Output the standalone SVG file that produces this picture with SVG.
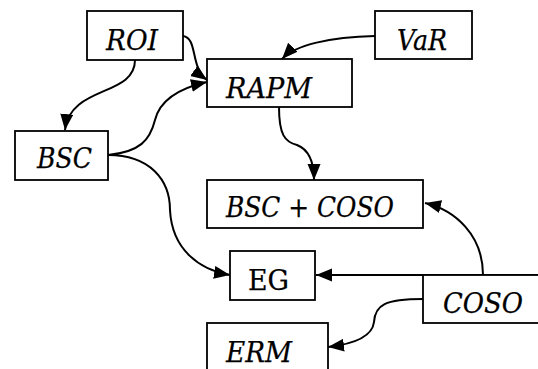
<svg xmlns="http://www.w3.org/2000/svg" width="538" height="369" viewBox="0 0 538 369">
<style>
.box{fill:#fff;stroke:#000;stroke-width:1.8}
.lbl{font-family:"DejaVu Serif","Liberation Serif",serif;font-size:27px;font-style:italic;fill:#000;stroke:#000;stroke-width:0.25}
.up{font-style:normal}
.con{fill:none;stroke:#000;stroke-width:2}
</style>
<defs>
<marker id="ah" markerUnits="userSpaceOnUse" markerWidth="18" markerHeight="14" refX="16" refY="6.5" orient="auto">
<path d="M0,0 L16,6.5 L0,13 z" fill="#000"/>
</marker>
</defs>
<rect width="538" height="369" fill="#fff"/>
<g id="connectors">
<path class="con" d="M135,60 C135,97 70,85 65,130" marker-end="url(#ah)"/>
<path class="con" d="M183,36 C198,38 190,68 207,80" marker-end="url(#ah)"/>
<path class="con" d="M108,155 C140,152 150,140 155,120 C160,100 180,88 207,82" marker-end="url(#ah)"/>
<path class="con" d="M108,155 C150,155 170,180 170,210 C172,250 200,270 230,275" marker-end="url(#ah)"/>
<path class="con" d="M375,36 C330,37 295,45 282,59" marker-end="url(#ah)"/>
<path class="con" d="M279,107 C279,135 285,142 297,145 C310,150 314,165 314,180" marker-end="url(#ah)"/>
<path class="con" d="M483,275 C483,235 455,210 425,203" marker-end="url(#ah)"/>
<path class="con" d="M423,299 C385,299 375,305 374,322 C372,340 345,345 328,347" marker-end="url(#ah)"/>
<path class="con" d="M540,275 L316,275" marker-end="url(#ah)"/>
</g>
<g id="ROI"><rect class="box" x="87" y="11" width="96" height="49"/><text class="lbl" x="106" y="50" textLength="52" lengthAdjust="spacingAndGlyphs">ROI</text></g>
<g id="VaR"><rect class="box" x="375" y="11" width="97" height="48"/><text class="lbl" x="397" y="50" textLength="50" lengthAdjust="spacingAndGlyphs">VaR</text></g>
<g id="RAPM"><rect class="box" x="207" y="59" width="145" height="48"/><text class="lbl" x="226" y="98" textLength="86" lengthAdjust="spacingAndGlyphs">RAPM</text></g>
<g id="BSC"><rect class="box" x="15" y="131" width="93" height="49"/><text class="lbl" x="37" y="168" textLength="55" lengthAdjust="spacingAndGlyphs">BSC</text></g>
<g id="BSC_COSO"><rect class="box" x="207" y="180" width="216" height="48"/><text class="lbl" x="226" y="217" textLength="168" lengthAdjust="spacingAndGlyphs">BSC + COSO</text></g>
<g id="EG"><rect class="box" x="230" y="251" width="85" height="49"/><text class="lbl up" x="248" y="290" textLength="41" lengthAdjust="spacingAndGlyphs">EG</text></g>
<g id="COSO"><rect class="box" x="423" y="275" width="125" height="48"/><text class="lbl" x="443" y="313" textLength="80" lengthAdjust="spacingAndGlyphs">COSO</text></g>
<g id="ERM"><rect class="box" x="207" y="323" width="121" height="60"/><text class="lbl" x="226" y="362" textLength="66" lengthAdjust="spacingAndGlyphs">ERM</text></g>
</svg>
